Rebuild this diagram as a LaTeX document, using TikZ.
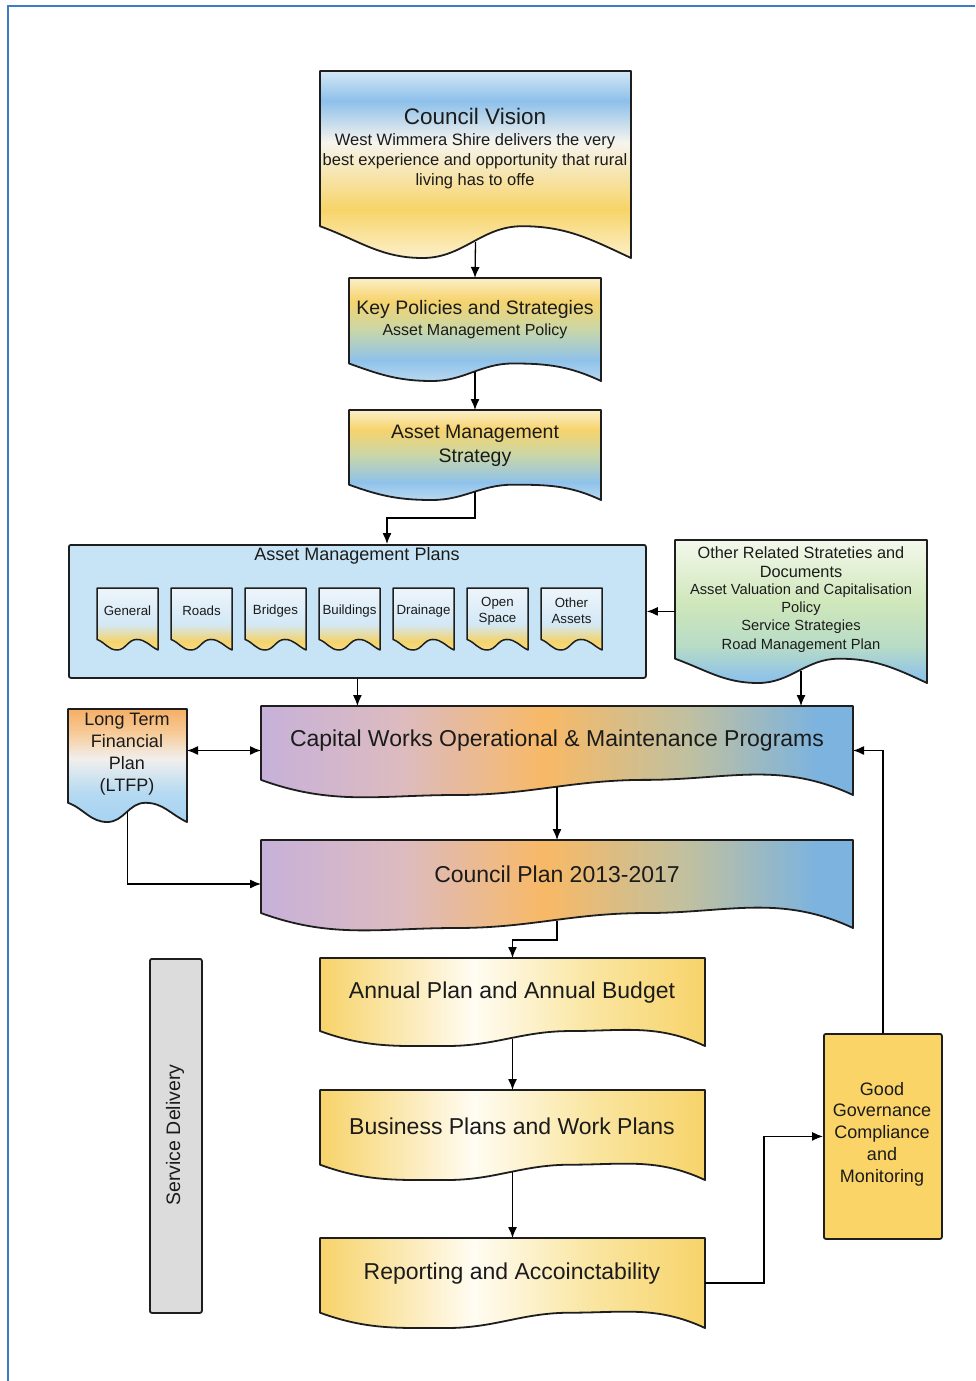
\documentclass[tikz,border=0pt]{standalone}
\usepackage{fontspec}
\setmainfont{Liberation Sans}
\usetikzlibrary{arrows.meta,calc}

% ---------- colours ----------
\definecolor{txtclr}{HTML}{1B1B1B}
\definecolor{lineclr}{HTML}{1E1E1E}
\definecolor{frameclr}{HTML}{3D7CC9}
\definecolor{cvTop}{HTML}{D4E7F6}
\definecolor{cvBlue}{HTML}{8DC0EA}
\definecolor{cvWhite}{HTML}{F6F4EE}
\definecolor{cvYel}{HTML}{F7D468}
\definecolor{cvBot}{HTML}{FCF0CC}
\definecolor{kpTop}{HTML}{FBEFC8}
\definecolor{kpYel}{HTML}{F6D36C}
\definecolor{kpMid}{HTML}{C9D7A8}
\definecolor{kpBlue}{HTML}{8FC2EA}
\definecolor{kpBot}{HTML}{B8D8F0}
\definecolor{pdTop}{HTML}{EEF5FB}
\definecolor{pdBlue}{HTML}{D3E8F6}
\definecolor{pdYel}{HTML}{F4D36C}
\definecolor{pdBot}{HTML}{F7DD88}
\definecolor{orTop}{HTML}{F3F8EC}
\definecolor{orGreen}{HTML}{CFE7BA}
\definecolor{orMix}{HTML}{B8DCC6}
\definecolor{orBlue}{HTML}{90C3E8}
\definecolor{ltTop}{HTML}{F5AF66}
\definecolor{ltOr}{HTML}{F7C995}
\definecolor{ltWhite}{HTML}{F1EFEC}
\definecolor{ltBlue}{HTML}{B5DAF2}
\definecolor{ltBot}{HTML}{A6D2F2}
\definecolor{rbA}{HTML}{C6B1D9}
\definecolor{rbB}{HTML}{DDBBBF}
\definecolor{rbC}{HTML}{F8B966}
\definecolor{rbD}{HTML}{C0C0A0}
\definecolor{rbE}{HTML}{7CB3DF}
\definecolor{ywA}{HTML}{F7D36A}
\definecolor{ywB}{HTML}{FFFCF2}
\definecolor{ywC}{HTML}{FAE6A2}
\definecolor{ampFill}{HTML}{C6E4F6}
\definecolor{ggFill}{HTML}{FAD466}
\definecolor{sdFill}{HTML}{DCDCDC}

% ---------- shadings (path box maps to 25bp..75bp) ----------
\pgfdeclareverticalshading{visionshade}{100bp}{color(0bp)=(cvBot); color(25bp)=(cvBot); color(38bp)=(cvYel); color(56bp)=(cvWhite); color(67bp)=(cvBlue); color(75bp)=(cvTop); color(100bp)=(cvTop)}
\pgfdeclareverticalshading{policyshade}{100bp}{color(0bp)=(kpBot); color(25bp)=(kpBot); color(35bp)=(kpBlue); color(50bp)=(kpMid); color(64bp)=(kpYel); color(75bp)=(kpTop); color(100bp)=(kpTop)}
\pgfdeclareverticalshading{plandocshade}{100bp}{color(0bp)=(pdBot); color(25bp)=(pdBot); color(32bp)=(pdYel); color(46bp)=(pdBlue); color(75bp)=(pdTop); color(100bp)=(pdTop)}
\pgfdeclareverticalshading{othershade}{100bp}{color(0bp)=(orBlue); color(27bp)=(orBlue); color(38bp)=(orMix); color(53bp)=(orGreen); color(75bp)=(orTop); color(100bp)=(orTop)}
\pgfdeclareverticalshading{ltfpshade}{100bp}{color(0bp)=(ltBot); color(25bp)=(ltBot); color(38bp)=(ltBlue); color(53bp)=(ltWhite); color(65bp)=(ltOr); color(75bp)=(ltTop); color(100bp)=(ltTop)}
\pgfdeclarehorizontalshading{rainbowshade}{100bp}{color(0bp)=(rbA); color(25bp)=(rbA); color(37bp)=(rbB); color(49bp)=(rbC); color(61bp)=(rbD); color(72bp)=(rbE); color(100bp)=(rbE)}
\pgfdeclarehorizontalshading{yellowshade}{100bp}{color(0bp)=(ywA); color(25bp)=(ywA); color(45bp)=(ywB); color(60bp)=(ywC); color(75bp)=(ywA); color(100bp)=(ywA)}

\tikzset{
  bigtip/.tip={Latex[length=11pt,width=9pt]},
  docbox/.style={draw=lineclr, line width=1.8pt, line join=round},
  plainbox/.style={draw=lineclr, line width=1.8pt, rounded corners=2pt, inner sep=0pt, anchor=north west},
  arr/.style={draw=black, line width=1.3pt, -{bigtip}},
  lbl/.style={inner sep=0pt, align=center, text=txtclr},
}

% document shape with a wavy lower edge:
% #1 name, #2 left, #3 top, #4 right, #5 lowest point, #6 fill style
\newcommand{\docshape}[6]{%
  \pgfmathsetmacro{\dsA}{0.17*((#5)-(#3))}%
  \pgfmathsetmacro{\dsW}{(#4)-(#2)}%
  \pgfmathsetmacro{\dsH}{(#5)-(#3)}%
  \pgfmathsetmacro{\dsT}{(#2)+0.33*\dsW}%
  \pgfmathsetmacro{\dsU}{(#2)+0.65*\dsW}%
  \pgfmathsetmacro{\dsM}{(#2)+0.5*\dsW}%
  \pgfmathsetmacro{\dsL}{(#5)-\dsA}%
  \pgfmathsetmacro{\dsE}{(#5)-0.5*\dsA}%
  \path[docbox,#6] (#2,#3) -- (#4,#3) -- (#4,#5)
     to[out=155,in=0] (\dsU,\dsL) to[out=180,in=0] (\dsT,#5)
     to[out=180,in=-20] (#2,\dsL) -- cycle;
  \node[inner sep=0pt, outer sep=0pt, minimum width=\dsW pt,
        minimum height=\dsH pt, anchor=north west] (#1) at (#2,#3) {};
  \coordinate (#1-w) at (\dsM,\dsE);
}

\begin{document}
\begin{tikzpicture}[x=1pt, y=-1pt]
\useasboundingbox (0,0) rectangle (975,1381);

% page frame
\draw[frameclr, line width=2pt] (8,1381) -- (8,6) -- (975,6);

% ---------- top chain ----------
\docshape{cv}{320}{71}{631}{258}{shade, shading=visionshade}
\node[lbl, font=\fontsize{22.5}{27}\selectfont] (cv-t) at (475,116) {Council Vision};
\node[lbl, font=\fontsize{16.5}{20}\selectfont] (cv-b) at (475,161)
  {West Wimmera Shire delivers the very\\best experience and opportunity that rural\\living has to offe};

\docshape{kp}{349}{278}{601}{381}{shade, shading=policyshade}
\node[lbl, font=\fontsize{19.5}{23}\selectfont] (kp-t) at (475,309) {Key Policies and Strategies};
\node[lbl, font=\fontsize{16}{19}\selectfont] (kp-b) at (475,331) {Asset Management Policy};

\docshape{ams}{349}{410}{601}{500}{shade, shading=policyshade}
\node[lbl, font=\fontsize{19.5}{23.5}\selectfont] (ams-t) at (475,446) {Asset Management\\Strategy};

% ---------- asset management plans ----------
\node[plainbox, fill=ampFill, minimum width=577pt, minimum height=133pt] (amp) at (68,544) {};
\node[lbl, font=\fontsize{18}{21}\selectfont] (amp-t) at (357,556) {Asset Management Plans};
\coordinate (amp-in) at (387,544);

\foreach \lab [count=\k] in {General,Roads,Bridges,Buildings,Drainage,{Open\\Space},{Other\\Assets}}{
  \pgfmathsetmacro{\pdl}{97+74*(\k-1)}
  \pgfmathsetmacro{\pdr}{\pdl+61}
  \pgfmathsetmacro{\pdc}{\pdl+30.5}
  \docshape{pd\k}{\pdl}{588}{\pdr}{650}{shade, shading=plandocshade, line width=1.5pt}
  \node[lbl, font=\fontsize{13.3}{16}\selectfont] (pd\k-t) at (\pdc,611) {\lab};
}

\docshape{orl}{675}{540}{927}{683}{shade, shading=othershade}
\node[lbl, font=\fontsize{16.3}{19}\selectfont] (orl-t) at (801,562)
  {Other Related Strateties and\\Documents};
\node[lbl, font=\fontsize{14.7}{18.2}\selectfont] (orl-b) at (801,618)
  {Asset Valuation and Capitalisation\\Policy\\Service Strategies\\Road Management Plan};

% ---------- programmes and plans ----------
\docshape{ltfp}{68}{709}{187}{822}{shade, shading=ltfpshade}
\node[lbl, font=\fontsize{18}{22}\selectfont] (ltfp-t) at (127,754) {Long Term\\Financial\\Plan\\(LTFP)};

\docshape{cw}{261}{706}{853}{795}{shade, shading=rainbowshade}
\node[lbl, font=\fontsize{23}{27}\selectfont] (cw-t) at (557,741) {Capital Works Operational \& Maintenance Programs};

\docshape{cp}{261}{840}{853}{928}{shade, shading=rainbowshade}
\node[lbl, font=\fontsize{23}{27}\selectfont] (cp-t) at (557,874) {Council Plan 2013-2017};

\docshape{ap}{320}{958}{705}{1046}{shade, shading=yellowshade}
\node[lbl, font=\fontsize{23}{27}\selectfont] (ap-t) at (512,993) {Annual Plan and Annual Budget};

\docshape{bp}{320}{1090}{705}{1180}{shade, shading=yellowshade}
\node[lbl, font=\fontsize{23}{27}\selectfont] (bp-t) at (512,1126) {Business Plans and Work Plans};

\docshape{rep}{320}{1238}{705}{1328}{shade, shading=yellowshade}
\node[lbl, font=\fontsize{23}{27}\selectfont] (rep-t) at (512,1274) {Reporting and Accoinctability};

\node[plainbox, fill=ggFill, minimum width=118pt, minimum height=205pt] (gg) at (823,1033) {};
\node[lbl, font=\fontsize{18}{21.7}\selectfont] (gg-t) at (882,1134) {Good\\Governance\\Compliance\\and\\Monitoring};

\node[plainbox, fill=sdFill, minimum width=52pt, minimum height=354pt] (sd) at (149,958) {};
\node[lbl, rotate=90, font=\fontsize{19.5}{23}\selectfont] (sd-t) at (175,1135) {Service Delivery};

% ---------- connectors ----------
\coordinate (bendA) at (0,518);
\coordinate (bendB) at (0,940);
\coordinate (bendC) at (764,0);

\draw[arr] (cv-w) -- (kp.north);
\draw[arr] (kp-w) -- (ams.north);
\draw[arr] (ams-w) -- (ams-w |- bendA) -| (amp-in);
\draw[arr] (orl.west |- amp.east) -- (amp.east);
\draw[arr] (amp.south) -- (amp.south |- cw.north);
\draw[arr] (orl-w) -- (orl-w |- cw.north);
\draw[arr, {bigtip}-{bigtip}] (ltfp.east |- cw.west) -- (cw.west);
\draw[arr] (cw-w) -- (cp.north);
\draw[arr] (ltfp-w) |- (cp.west);
\draw[arr] (cp-w) -- (cp-w |- bendB) -| (ap.north);
\draw[arr] (ap-w) -- (bp.north);
\draw[arr] (bp-w) -- (rep.north);
\draw[arr] (rep.east) -- (bendC |- rep.east) |- (gg.west);
\draw[arr] (gg.north) |- (cw.east);
\end{tikzpicture}
\end{document}
